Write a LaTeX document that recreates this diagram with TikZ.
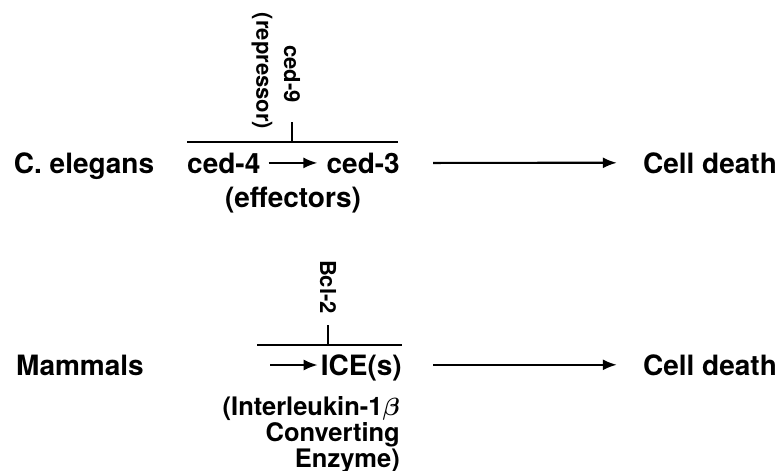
\documentclass[tikz,border=0pt]{standalone}
\usepackage{bm}
\usepackage{fontspec}
\setmainfont{TeX Gyre Heros}
\usetikzlibrary{arrows.meta}

\begin{document}
\begin{tikzpicture}[x=1pt, y=-1pt,
        big/.style={inner sep=0pt, anchor=base, font=\bfseries\fontsize{28}{32}\selectfont},
        side/.style={inner sep=0pt, rotate=-90, font=\bfseries\fontsize{22}{26}\selectfont},
        small/.style={inner sep=0pt, font=\bfseries\fontsize{25.5}{26}\selectfont},
        arr/.style={line width=2.2pt, -{Latex[length=14pt, width=11pt]}},
        bar/.style={line width=2.4pt}]
        \useasboundingbox (0,0) rectangle (780,471);

        % C. elegans
        \node[big] (worm) at (84,173) {C. elegans};
        \node[big, anchor=base west] (ced4) at (187,173) {ced-4};
        \node[big, anchor=base east] (ced3) at (400,173) {ced-3};
        \node[big] (effectors) at (293,207) {(effectors)};
        \node[big] (death1) at (710,173) {Cell death};
        \draw [arr, shorten <=8pt, shorten >=9pt] (ced4.east) -- (ced3.west);
        \draw [arr, shorten <=33pt, shorten >=26pt] (ced3.east) -- (death1.west);
        \coordinate (bar1l) at (187,142);
        \coordinate (bar1r) at (398,142);
        \coordinate (tick1) at (292,142);
        \draw [bar] (bar1l) -- (bar1r);
        \draw [bar] (tick1) -- ++(0,-20);
        \node[side] (ced9) at (292,74) {ced-9};
        \node[side] (repressor) at (262,71) {(repressor)};

        % Mammals
        \node[big] (mammal) at (80,375) {Mammals};
        \node[big, anchor=base east] (ice) at (402,375) {ICE(s)};
        \node[big] (death2) at (710,375) {Cell death};
        \coordinate (from2) at (270,365);
        \draw [arr, shorten >=3pt] (from2) -- (ice.west |- from2);
        \draw [arr, shorten <=31pt, shorten >=26pt] (ice.east |- death2.west) -- (death2.west);
        \coordinate (bar2l) at (257,345);
        \coordinate (bar2r) at (402,345);
        \coordinate (tick2) at (328,345);
        \draw [bar] (bar2l) -- (bar2r);
        \draw [bar] (tick2) -- ++(0,-20);
        \node[side] (bcl2) at (328,287) {Bcl-2};
        \node[small, anchor=base east, align=right] (enzyme) at (400,467)
            {(Interleukin-1$\bm{\beta}$\\Converting\\Enzyme)};
\end{tikzpicture}
\end{document}
